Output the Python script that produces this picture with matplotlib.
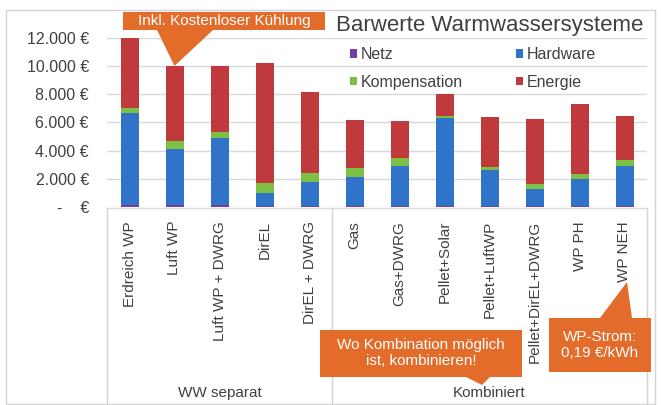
import matplotlib.pyplot as plt
import matplotlib.transforms as mtransforms
from matplotlib.patches import Rectangle, Polygon
from matplotlib.ticker import FuncFormatter, MultipleLocator
import numpy as np

# Daten
systeme = ['Erdreich WP', 'Luft WP', 'Luft WP + DWRG', 'DirEL', 'DirEL + DWRG',
           'Gas', 'Gas+DWRG', 'Pellet+Solar', 'Pellet+LuftWP', 'Pellet+DirEL+DWRG',
           'WP PH', 'WP NEH']
gruppen = ['WW separat', 'Kombiniert']
gruppen_groesse = [5, 7]

netz = [150, 150, 150, 100, 100, 100, 100, 100, 100, 100, 100, 100]
hardware = [6500, 3950, 4750, 900, 1650, 2050, 2800, 6200, 2550, 1200, 1850, 2800]
kompensation = [400, 550, 450, 700, 650, 600, 550, 120, 200, 350, 400, 400]
energie = [4950, 5350, 4650, 8500, 5750, 3450, 2650, 1600, 3550, 4600, 4950, 3150]

farben = {'Netz': '#7040A8', 'Hardware': '#2F74C8', 'Kompensation': '#7CC043', 'Energie': '#C0393C'}
orange = '#E46C2A'
grau = '#404040'

plt.rcParams['font.family'] = ['Liberation Sans', 'DejaVu Sans']

W, H = 661, 405
fig = plt.figure(figsize=(W / 100, H / 100), dpi=100)
fig.patch.set_facecolor('white')


def fx(x):
    return x / W


def fy(y):
    return 1 - y / H


# Rahmen des Diagrammbereichs
fig.patches.append(Rectangle((fx(6), fy(404)), fx(649), fy(10) - fy(404), transform=fig.transFigure,
                             fill=False, edgecolor='#D4D4D4', lw=1))

ax = fig.add_axes([fx(107), fy(207), fx(647) - fx(107), fy(37.7) - fy(207)])
x = np.arange(len(systeme))
w = 0.4
unten = np.zeros(len(systeme))
serien = [('Netz', netz), ('Hardware', hardware), ('Kompensation', kompensation), ('Energie', energie)]
bars = {}
for name, werte in serien:
    bars[name] = ax.bar(x, werte, w, bottom=unten, color=farben[name], zorder=3)
    unten = unten + np.array(werte)

ax.set_xlim(-0.5, len(systeme) - 0.5)
ax.set_ylim(0, 12000)
ax.yaxis.set_major_locator(MultipleLocator(2000))
ax.yaxis.set_major_formatter(FuncFormatter(
    lambda v, p: '-    €' if v == 0 else f'{int(v):,} €'.replace(',', '.')))
ax.grid(axis='y', color='#D9D9D9', lw=1, zorder=0)
for s in ax.spines.values():
    s.set_visible(False)
ax.tick_params(axis='y', length=0, pad=13, labelsize=11.5, labelcolor=grau)
ax.set_xticks(x)
ax.set_xticklabels(systeme, rotation=90, fontsize=11, color=grau, va='top', ha='center')
ax.tick_params(axis='x', length=0, pad=10)

# Kategorieachse mit Gruppen
blend = mtransforms.blended_transform_factory(ax.transData, fig.transFigure)
grenzen = np.concatenate([[0], np.cumsum(gruppen_groesse)]) - 0.5
ax.plot([-0.5, len(systeme) - 0.5], [fy(208)] * 2, transform=blend, color='#DCDCDC', lw=1, clip_on=False)
for g in grenzen:
    ax.plot([g, g], [fy(208), fy(405)], transform=blend, color='#D4D4D4', lw=1, clip_on=False)
for i, name in enumerate(gruppen):
    mitte = (grenzen[i] + grenzen[i + 1]) / 2
    ax.text(mitte, fy(393), name, transform=blend, ha='center', va='center', fontsize=11, color=grau)

# Titel und Legende
fig.text(fx(490), fy(26), 'Barwerte Warmwassersysteme', ha='center', va='center', fontsize=16, color=grau)
handles = [bars['Netz'], bars['Kompensation'], bars['Hardware'], bars['Energie']]
labels = ['Netz', 'Kompensation', 'Hardware', 'Energie']
leg = fig.legend(handles, labels, loc='upper left', bbox_to_anchor=(fx(350), fy(47)), ncol=2,
                 frameon=False, fontsize=11.5, handlelength=0.45, handleheight=0.45, handletextpad=0.25,
                 labelspacing=0.8, columnspacing=3.3, borderpad=0, borderaxespad=0)
for t in leg.get_texts():
    t.set_color(grau)

# Callouts
to_fig = fig.transFigure.inverted()


def callout(box, tri, lines, cx, cy):
    x0, y0, x1, y1 = box
    fig.patches.append(Rectangle((fx(x0), fy(y1)), fx(x1 - x0), fy(y0) - fy(y1), transform=fig.transFigure,
                                 facecolor=orange, edgecolor='none', zorder=10))
    fig.patches.append(Polygon(tri, closed=True, transform=fig.transFigure, facecolor=orange,
                               edgecolor='none', zorder=10))
    fig.text(fx(cx), fy(cy), lines, ha='center', va='center', color='white', fontsize=11,
             family=['Liberation Sans Narrow', 'Liberation Sans', 'DejaVu Sans'], linespacing=1.25, zorder=11)


spitze = to_fig.transform(ax.transData.transform((1, unten[1])))
callout((123, 12, 325, 30), [(fx(157), fy(30)), (fx(213), fy(30)), tuple(spitze)],
        'Inkl. Kostenloser Kühlung', 224, 21)
callout((320, 330, 522, 377), [(fx(466), fy(377)), (fx(490), fy(377)), (fx(482), fy(385))],
        'Wo Kombination möglich\nist, kombinieren!', 421, 353)
callout((549, 318, 651, 372), [(fx(600), fy(318)), (fx(632), fy(318)), (fx(627), fy(282))],
        'WP-Strom:\n0,19 €/kWh', 600, 345)

plt.savefig('out.png', dpi=100)
